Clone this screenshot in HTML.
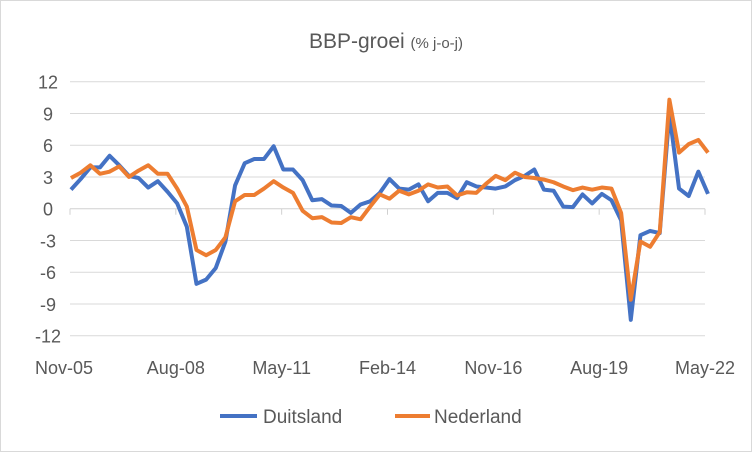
<!DOCTYPE html>
<html><head><meta charset="utf-8"><style>
body{margin:0;background:#fff}
svg{display:block;font-family:"Liberation Sans",Calibri,sans-serif}
</style></head><body>
<svg width="752" height="452" viewBox="0 0 752 452">
<rect x="0.5" y="0.5" width="751" height="451" fill="#fff" stroke="#d9d9d9"/>
<text x="386" y="48" text-anchor="middle" fill="#595959" font-size="21">BBP-groei <tspan font-size="15">(% j-o-j)</tspan></text>
<g id="grid"></g>
<g id="yl"></g>
<g id="xl"></g>
<g id="lines"></g>
<g>
<line x1="220" y1="416" x2="257" y2="416" stroke="#4472c4" stroke-width="4"/>
<text x="263" y="423" font-size="19" fill="#595959">Duitsland</text>
<line x1="395" y1="416" x2="430" y2="416" stroke="#ed7d31" stroke-width="4"/>
<text x="434" y="423" font-size="19" fill="#595959">Nederland</text>
</g>
</svg>
<script>
const xLabels=["Nov-05","Aug-08","May-11","Feb-14","Nov-16","Aug-19","May-22"];
const yTicks=[12,9,6,3,0,-3,-6,-9,-12];
const duitsland=[1.8,2.8,3.9,3.9,5.0,4.1,3.1,2.9,2.0,2.6,1.6,0.5,-1.7,-7.1,-6.7,-5.6,-3.1,2.2,4.3,4.7,4.7,5.9,3.7,3.7,2.7,0.8,0.9,0.3,0.25,-0.4,0.4,0.7,1.5,2.8,1.9,1.8,2.3,0.7,1.5,1.5,1.0,2.5,2.1,2.0,1.9,2.1,2.7,3.1,3.7,1.8,1.7,0.2,0.15,1.35,0.5,1.4,0.8,-1.1,-10.5,-2.5,-2.1,-2.3,9.0,1.9,1.2,3.5,1.4];
const nederland=[2.9,3.4,4.1,3.3,3.5,4.0,3.0,3.6,4.1,3.3,3.3,1.9,0.2,-3.9,-4.4,-3.9,-2.7,0.7,1.3,1.3,1.9,2.6,2.0,1.5,-0.2,-0.9,-0.8,-1.3,-1.35,-0.8,-1.0,0.2,1.35,0.95,1.7,1.35,1.7,2.3,2.0,2.1,1.25,1.55,1.5,2.35,3.1,2.7,3.4,3.0,2.9,2.75,2.5,2.1,1.75,2.0,1.8,2.0,1.9,-0.4,-8.6,-3.1,-3.6,-2.2,10.3,5.3,6.1,6.5,5.3];
const NS="http://www.w3.org/2000/svg";
const x0=71,x1=708,yTop=81.7,yBot=335.7;
const n=duitsland.length;
function xs(i){return x0+(x1-x0)*i/(n-1);}
function ys(v){return yTop+(12-v)/24*(yBot-yTop);}
function mk(tag,attrs,parent){const e=document.createElementNS(NS,tag);for(const k in attrs)e.setAttribute(k,attrs[k]);parent.appendChild(e);return e;}
const grid=document.getElementById('grid'),yl=document.getElementById('yl'),xl=document.getElementById('xl'),lines=document.getElementById('lines');
yTicks.forEach(t=>{
  const g=mk('line',{x1:70,x2:705,y1:ys(t),y2:ys(t),stroke:t===0?'#d0d0d0':'#d9d9d9','stroke-width':1},grid);
  
  
  const tx=mk('text',{x:48,y:ys(t)+7,'text-anchor':'middle','font-size':18,fill:'#595959'},yl);
  
  
  tx.textContent=t;
});
xLabels.forEach((l,k)=>{
  const i=k*11;const x=70+(705-70)*i/(n-1);
  const tk=mk('line',{x1:x,x2:x,y1:ys(0),y2:ys(0)+6,stroke:'#d0d0d0'},grid);
  
  
  const tx=mk('text',{x:k===0?64:(k===6?705:x),y:374,'text-anchor':'middle','font-size':18,fill:'#595959'},xl);
  
  
  tx.textContent=l;
});
function drawLine(data,color,name){
  const p=mk('polyline',{points:data.map((v,i)=>xs(i)+','+ys(v)).join(' '),fill:'none',stroke:color,'stroke-width':4,'stroke-linejoin':'round'},lines);
  
  
}
drawLine(duitsland,'#4472c4','line-duitsland');
drawLine(nederland,'#ed7d31','line-nederland');
</script>
</body></html>
